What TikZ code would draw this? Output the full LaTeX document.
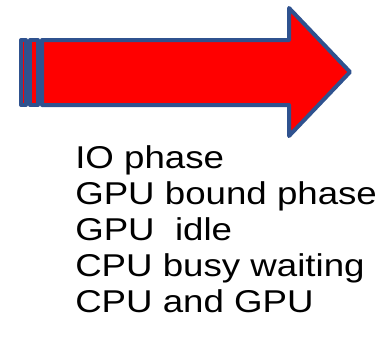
\documentclass[tikz,border=0pt]{standalone}
\usepackage{fontspec}
\setmainfont{Liberation Sans}
\definecolor{arrowblue}{RGB}{47,82,143}
\tikzset{
	stripe/.style={draw=arrowblue, fill=red, line width=3pt, line join=round},
	phase/.style={anchor=base west, inner sep=0pt, font=\fontsize{27.5pt}{30pt}\selectfont}
}
\newcommand{\squash}[1]{\scalebox{1}[0.86]{#1}}
\begin{document}
\begin{tikzpicture}[x=0.75pt, y=-0.75pt]
	\useasboundingbox (0,0) rectangle (383,351);
	% Flecha rayada
		% Rayas
			\draw[stripe] (21,40) rectangle (26,105);
			\draw[stripe] (30,40) rectangle (38,105);
		% Cuerpo
			\draw[stripe] (42,40) -- (289,40) -- (289,8) -- (350,72) -- (289,136) -- (289,105) -- (42,105) -- cycle;

	% Fases
		\node[phase] (io) at (75,168) {\squash{IO phase}};
		\node[phase] (gpubound) at (75,204) {\squash{GPU bound phase}};
		\node[phase] (gpuidle) at (75,240) {\squash{GPU\ \ idle}};
		\node[phase] (cpubusy) at (75,276) {\squash{CPU busy waiting}};
		\node[phase] (cpugpu) at (75,312) {\squash{CPU and GPU}};
\end{tikzpicture}
\end{document}
